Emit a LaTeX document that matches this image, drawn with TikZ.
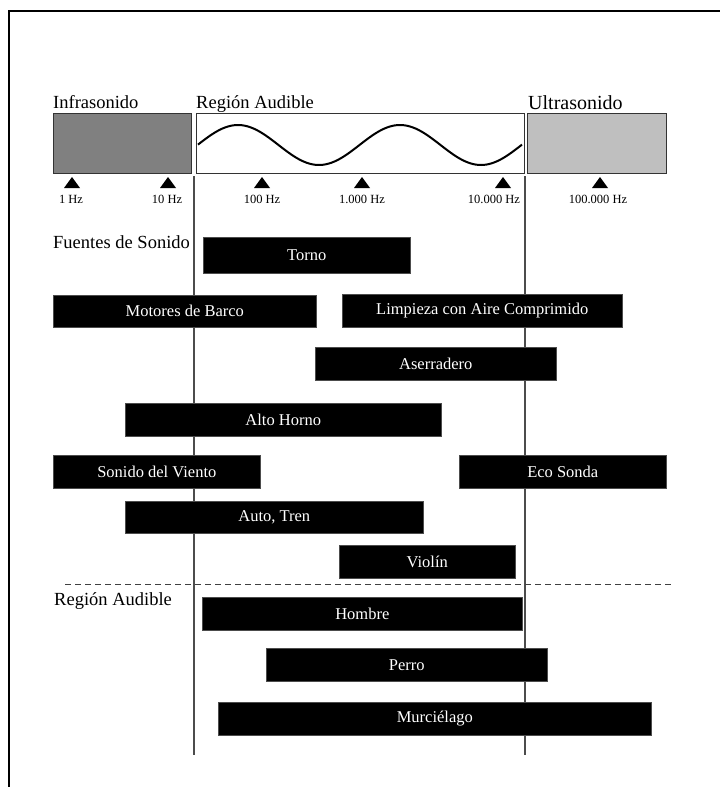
\documentclass[tikz,border=0pt]{standalone}
\usepackage{fontspec}
\setmainfont{Liberation Serif}
\begin{document}
\begin{tikzpicture}[x=1pt,y=-1pt,
  bar/.style={fill=black,draw=black!70,line width=0.6pt,text=white,
    font=\fontsize{16.5}{18}\selectfont,inner sep=0pt},
  head/.style={anchor=base west,inner sep=0pt,font=\fontsize{18.5}{20}\selectfont},
  ticklbl/.style={anchor=base,inner sep=0pt,font=\fontsize{12.5}{14}\selectfont},
  tri/.style={fill=black},
  band/.style={draw=black!80,line width=1.3pt},
  guide/.style={draw=black!70,line width=1.2pt}]
\useasboundingbox (0,0) rectangle (720,787);
\fill[white] (0,0) rectangle (720,787);
% frame
\draw[line width=2.2pt] (9,800) -- (9,11) -- (730,11);
% bands
\node[band,fill=black!50,minimum width=138pt,minimum height=60pt,anchor=north west,inner sep=0pt] (infra) at (53,113) {};
\node[band,fill=white,minimum width=328pt,minimum height=60pt,anchor=north west,inner sep=0pt] (aud) at (196,113) {};
\node[band,fill=black!25,minimum width=139pt,minimum height=60pt,anchor=north west,inner sep=0pt] (ultra) at (527,113) {};
\draw[line width=2pt,domain=198:522,samples=120,smooth] plot (\x,{145-20*cos(2.2222*(\x-238))});
\node[head] (linfra) at (53,108) {Infrasonido};
\node[head] (laud) at (196,108) {Región Audible};
\node[head,font=\fontsize{20}{22}\selectfont] (lultra) at (528,109) {Ultrasonido};
% guides
\coordinate (g1a) at (194,176); \coordinate (g1b) at (194,755);
\coordinate (g2a) at (525,176); \coordinate (g2b) at (525,755);
\draw[guide] (g1a) -- (g1b);
\draw[guide] (g2a) -- (g2b);
% ticks
\foreach \xx/\lx/\lab/\nm in {72/71/1 Hz/t1,168/167/10 Hz/t2,262/262/100 Hz/t3,362/362/1.000 Hz/t4,503/494/10.000 Hz/t5,600/598/100.000 Hz/t6}{
  \fill[tri] (\xx-8,188) -- (\xx,177) -- (\xx+8,188) -- cycle;
  \node[ticklbl] (\nm) at (\lx,203) {\lab};
}
\node[head] (lfuentes) at (53,248) {Fuentes de Sonido};
% bars
\newcommand{\mybar}[6]{\node[bar,minimum width=#3-#2,minimum height=#5-#4,anchor=north west] (#1) at (#2,#4) {}; \node[text=white,font=\fontsize{16.5}{18}\selectfont,inner sep=0pt] at (#1.center) {#6};}
\mybar{torno}{203}{410}{237}{273}{Torno}
\mybar{motores}{53}{316}{295}{327}{Motores de Barco}
\mybar{limpieza}{342}{622}{294}{327}{Limpieza con Aire Comprimido}
\mybar{aserr}{315}{556}{347}{380}{Aserradero}
\mybar{alto}{125}{441}{403}{436}{Alto Horno}
\mybar{viento}{53}{260}{455}{488}{Sonido del Viento}
\mybar{eco}{459}{666}{455}{488}{Eco Sonda}
\mybar{auto}{125}{423}{501}{533}{Auto, Tren}
\mybar{violin}{339}{515}{545}{578}{Violín}
% dashed separator
\coordinate (d1) at (65,584); \coordinate (d2) at (672,584);
\draw[line width=1pt,black!75,dash pattern=on 6pt off 4pt] (d1) -- (d2);
\node[head] (laud2) at (54,605) {Región Audible};
\mybar{hombre}{202}{522}{597}{630}{Hombre}
\mybar{perro}{266}{547}{648}{681}{Perro}
\mybar{murc}{218}{651}{702}{735}{Murciélago}
\end{tikzpicture}
\end{document}
